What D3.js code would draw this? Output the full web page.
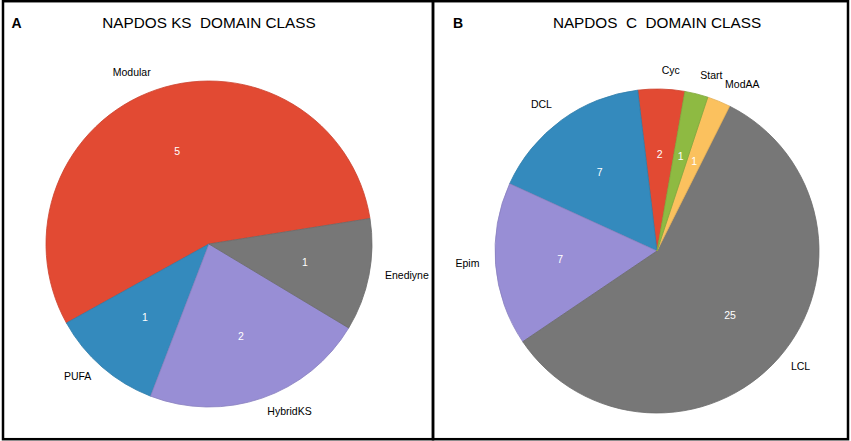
<!DOCTYPE html>
<html>
<head>
<meta charset="utf-8">
<script src="https://cdn.jsdelivr.net/npm/d3@7"></script>
<style>
  body { margin: 0; background: #fff; }
  text { font-family: "Liberation Sans", Arial, sans-serif; }
</style>
</head>
<body>
<div id="chart"></div>
<script>
// NAPDOS KS domain class
var ksLabels = ["Modular", "PUFA", "HybridKS", "Enediyne"];
var ksValues = [5, 1, 2, 1];

// NAPDOS C domain class
var cLabels = ["Cyc", "DCL", "Epim", "LCL", "ModAA", "Start"];
var cValues = [2, 7, 7, 25, 1, 1];

var palette = ["#E24A33", "#348ABD", "#988ED5", "#777777", "#FBC15E", "#8EBA42"];

var width = 851, height = 441;

var svg = d3.select("#chart").append("svg")
    .attr("width", width)
    .attr("height", height);

// panel frames
svg.append("rect")
    .attr("x", 3).attr("y", 1.2)
    .attr("width", 430).attr("height", 438)
    .attr("fill", "none").attr("stroke", "#000").attr("stroke-width", 2.5);
svg.append("rect")
    .attr("x", 433).attr("y", 1.2)
    .attr("width", 415).attr("height", 438)
    .attr("fill", "none").attr("stroke", "#000").attr("stroke-width", 2.5);

function drawPie(cfg) {
    var g = svg.append("g")
        .attr("transform", "translate(" + cfg.cx + "," + cfg.cy + ")");

    var data = cfg.values.map(function (v, i) {
        return { label: cfg.labels[i], value: v, color: palette[i] };
    });

    // counterclockwise, like the original
    var pie = d3.pie()
        .sort(null)
        .value(function (d) { return d.value; })
        .startAngle(cfg.start * Math.PI / 180)
        .endAngle(cfg.start * Math.PI / 180 - 2 * Math.PI);

    var arc = d3.arc().innerRadius(0).outerRadius(cfg.r);
    var arcs = pie(data);

    g.selectAll("path")
        .data(arcs)
        .enter().append("path")
        .attr("d", arc)
        .attr("fill", function (d) { return d.data.color; })
        .attr("stroke", function (d) { return d3.color(d.data.color).darker(0.3); })
        .attr("stroke-width", 0.8);

    function mid(d) { return (d.startAngle + d.endAngle) / 2; }

    // values inside
    g.selectAll("text.val")
        .data(arcs)
        .enter().append("text")
        .attr("class", "val")
        .attr("x", function (d) { return Math.sin(mid(d)) * cfg.r * 0.6; })
        .attr("y", function (d) { return -Math.cos(mid(d)) * cfg.r * 0.6; })
        .attr("dy", "0.35em")
        .attr("text-anchor", "middle")
        .attr("font-size", "10.5px")
        .attr("fill", "#fff")
        .text(function (d) { return d.data.value; });

    // names outside
    g.selectAll("text.lab")
        .data(arcs)
        .enter().append("text")
        .attr("class", "lab")
        .attr("x", function (d) { return Math.sin(mid(d)) * cfg.r * 1.1; })
        .attr("y", function (d) { return -Math.cos(mid(d)) * cfg.r * 1.1 - 2.5; })
        .attr("dy", "0.35em")
        .attr("text-anchor", function (d) { return Math.sin(mid(d)) < 0 ? "end" : "start"; })
        .attr("font-size", "10.5px")
        .attr("fill", "#000")
        .text(function (d) { return d.data.label; });

    svg.append("text")
        .attr("x", cfg.cx)
        .attr("y", 28)
        .attr("text-anchor", "middle")
        .attr("font-size", "15.3px")
        .attr("xml:space", "preserve")
        .style("white-space", "pre")
        .text(cfg.title);

    svg.append("text")
        .attr("x", cfg.tagX)
        .attr("y", 28)
        .attr("font-size", "14px")
        .attr("font-weight", "bold")
        .text(cfg.tag);
}

drawPie({
    labels: ksLabels, values: ksValues,
    cx: 209, cy: 244, r: 163, start: 81,
    title: "NAPDOS KS  DOMAIN CLASS", tag: "A", tagX: 11.5
});

drawPie({
    labels: cLabels, values: cValues,
    cx: 657, cy: 251, r: 162, start: 9.9,
    title: "NAPDOS  C  DOMAIN CLASS", tag: "B", tagX: 453
});
</script>
</body>
</html>
